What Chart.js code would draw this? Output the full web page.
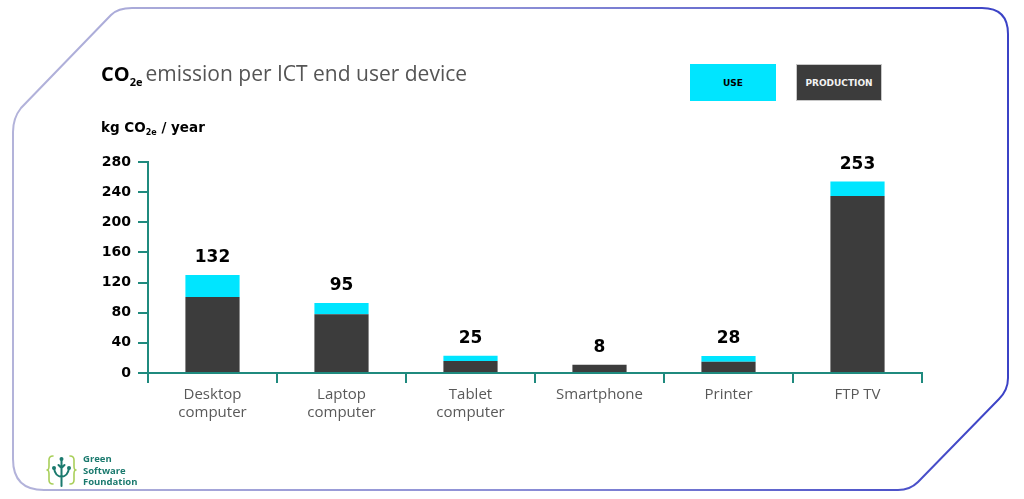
<!DOCTYPE html>
<html>
<head>
<meta charset="utf-8">
<script src="https://cdn.jsdelivr.net/npm/chart.js@4.4.1/dist/chart.umd.min.js"></script>
<style>
  html, body { margin: 0; padding: 0; background: #fff; }
  #wrap { position: relative; width: 1024px; height: 499px; overflow: hidden; }
  #frame { position: absolute; left: 0; top: 0; }
  #chartBox { position: absolute; left: 0; top: 0; width: 1024px; height: 499px; }
  .title { position: absolute; left: 101px; top: 63px; font-family: "Open Sans", sans-serif; font-size: 21px; line-height: 21px; color: #555; white-space: nowrap; }
  .title b { color: #000; font-size: 20px; }
  .title sub { font-size: 11px; font-weight: bold; color: #000; vertical-align: -5px; margin-right: 3px; }
  .ytitle { position: absolute; left: 101px; top: 120px; font-family: "DejaVu Sans", sans-serif; font-weight: bold; font-size: 13.5px; line-height: 14px; color: #000; white-space: nowrap; }
  .ytitle sub { font-size: 8px; vertical-align: -3px; }
  .legend-box { position: absolute; top: 64px; width: 86px; height: 37px; box-sizing: border-box; font-family: "DejaVu Sans", sans-serif; font-weight: bold; font-size: 9px; display: flex; align-items: center; justify-content: center; }
  .logo-text { position: absolute; left: 83px; top: 453px; font-family: "Open Sans", sans-serif; font-weight: bold; font-size: 9.5px; line-height: 11.5px; color: #1b7a6e; }
</style>
</head>
<body>
<div id="wrap">
  <svg id="frame" width="1024" height="499">
    <defs>
      <linearGradient id="edge" x1="0" y1="0" x2="1" y2="0">
        <stop offset="0" stop-color="#b3b3da"/>
        <stop offset="0.5" stop-color="#8c8fd6"/>
        <stop offset="1" stop-color="#3b42c6"/>
      </linearGradient>
    </defs>
    <path d="M 132 8 L 982 8 Q 1008 8 1008 34 L 1008 378 Q 1008 390 999 399 L 918 482 Q 910 490 898 490 L 44 490 Q 13 490 13 459 L 13 132 Q 13 118 21 108 L 111 15 Q 118 8 132 8 Z"
          fill="none" stroke="url(#edge)" stroke-width="2"/>
    <!-- logo mark -->
    <g fill="none" stroke-linecap="round" stroke-linejoin="round">
      <path d="M 53 456 Q 49 456 49 460 L 49 466 Q 49 470 47 470 Q 49 470 49 474 L 49 480 Q 49 484 53 484" stroke="#a9cf5a" stroke-width="1.6"/>
      <path d="M 70 456 Q 74 456 74 460 L 74 466 Q 74 470 76 470 Q 74 470 74 474 L 74 480 Q 74 484 70 484" stroke="#a9cf5a" stroke-width="1.6"/>
      <path d="M 61.5 459 L 61.5 486 M 61.5 477 Q 55 476 54 468 M 61.5 477 Q 68 476 69 468 M 61.5 468 L 58.5 465 M 61.5 468 L 64.5 465" stroke="#1b7a6e" stroke-width="2"/>
    </g>
    <g fill="#1b7a6e">
      <circle cx="61.5" cy="459" r="2"/>
      <circle cx="54" cy="468" r="2"/>
      <circle cx="69" cy="468" r="2"/>
    </g>
  </svg>
  <div id="chartBox"><canvas id="co2Chart" width="1024" height="499"></canvas></div>
  <div class="title"><b>CO</b><sub>2e</sub>emission per ICT end user device</div>
  <div class="ytitle">kg CO<sub>2e</sub> / year</div>
  <div class="legend-box" id="legUse" style="left:690px;"></div>
  <div class="legend-box" id="legProd" style="left:796px;"></div>
  <div class="logo-text">Green<br>Software<br>Foundation</div>
</div>

<script>
// values (kg CO2e / year)
const devices = [
    ['Desktop', 'computer'],
    ['Laptop', 'computer'],
    ['Tablet', 'computer'],
    'Smartphone',
    'Printer',
    'FTP TV'
];
const production = [101, 78, 16, 11, 15, 235];
const use = [29, 15, 7, 0, 7.5, 19];
const totals = ['132', '95', '25', '8', '28', '253'];
const yTicks = [0, 40, 80, 120, 160, 200, 240, 280];

const useColor = '#00e5ff';
const prodColor = '#3c3c3c';
const axisColor = '#1f8a7e';

// legend boxes
const legUse = document.getElementById('legUse');
legUse.textContent = 'USE';
legUse.style.background = useColor;
legUse.style.color = '#000';
const legProd = document.getElementById('legProd');
legProd.textContent = 'PRODUCTION';
legProd.style.background = prodColor;
legProd.style.color = '#f2f2f2';
legProd.style.border = '1px solid #c8c8c8';

// totals written above each stack
const totalLabels = {
    id: 'totalLabels',
    afterDatasetsDraw(chart) {
        const ctx = chart.ctx;
        const topMeta = chart.getDatasetMeta(1);
        ctx.save();
        ctx.font = 'bold 17px "DejaVu Sans", sans-serif';
        ctx.fillStyle = '#000';
        ctx.textAlign = 'center';
        ctx.textBaseline = 'bottom';
        topMeta.data.forEach((bar, i) => {
            ctx.fillText(totals[i], bar.x, bar.y - 9);
        });
        ctx.restore();
    }
};

const ctx = document.getElementById('co2Chart').getContext('2d');
const co2Chart = new Chart(ctx, {
    type: 'bar',
    data: {
        labels: devices,
        datasets: [
            {
                label: 'PRODUCTION',
                data: production,
                backgroundColor: prodColor,
                barPercentage: 0.42,
                categoryPercentage: 1
            },
            {
                label: 'USE',
                data: use,
                backgroundColor: useColor,
                barPercentage: 0.42,
                categoryPercentage: 1
            }
        ]
    },
    options: {
        responsive: false,
        animation: false,
        layout: { padding: { left: 0, right: 102, top: 162, bottom: 0 } },
        plugins: {
            legend: { display: false },
            tooltip: { enabled: false }
        },
        scales: {
            x: {
                stacked: true,
                afterFit: (scale) => { scale.height = 126; },
                grid: {
                    drawOnChartArea: false,
                    color: axisColor,
                    lineWidth: 2,
                    tickLength: 10
                },
                border: { color: axisColor, width: 2 },
                ticks: {
                    color: '#595959',
                    padding: 2,
                    font: { family: '"Open Sans", sans-serif', size: 15, lineHeight: 1.25 },
                    maxRotation: 0
                }
            },
            y: {
                stacked: true,
                min: 0,
                max: 280,
                afterFit: (scale) => { scale.width = 148; },
                afterBuildTicks: (scale) => { scale.ticks = yTicks.map(v => ({ value: v })); },
                grid: {
                    drawOnChartArea: false,
                    color: axisColor,
                    lineWidth: 2,
                    tickLength: 10
                },
                border: { color: axisColor, width: 2 },
                ticks: {
                    color: '#000',
                    padding: 7,
                    font: { family: '"DejaVu Sans", sans-serif', size: 14, weight: 'bold' }
                }
            }
        }
    },
    plugins: [totalLabels]
});
</script>
</body>
</html>
